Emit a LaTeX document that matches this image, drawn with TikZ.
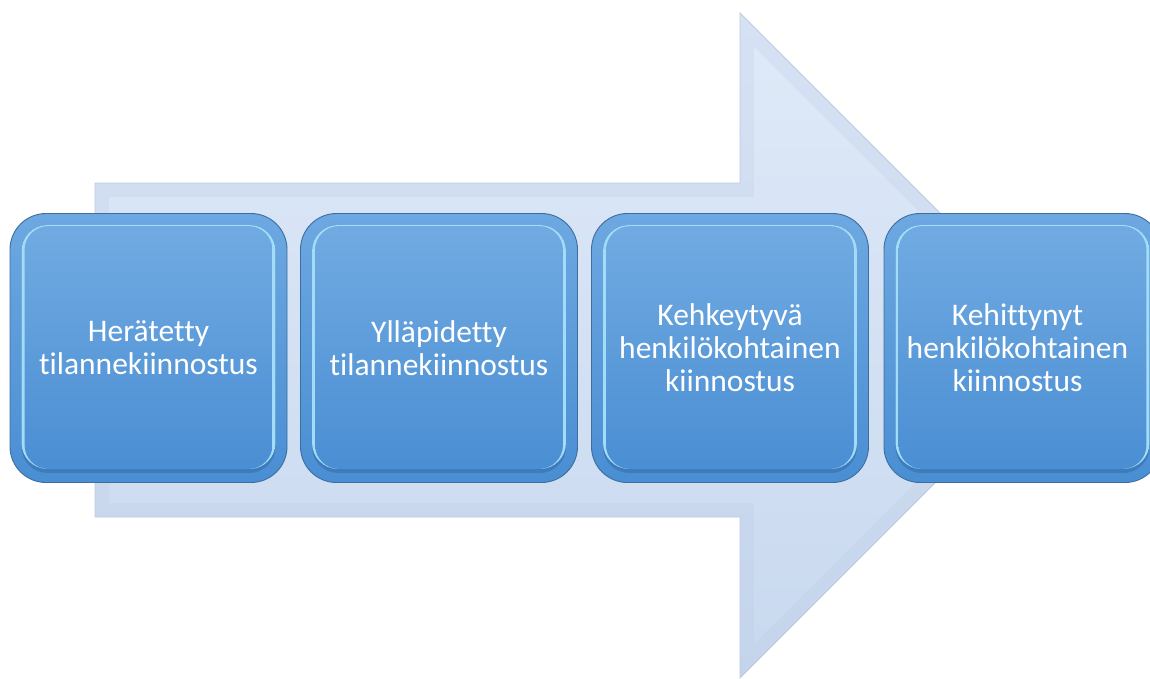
\documentclass[tikz,border=0pt]{standalone}
\usepackage{fontspec}
\setmainfont[Ligatures=NoCommon]{Carlito}
\definecolor{arrowtop}{HTML}{D6E2F3}
\definecolor{arrowbot}{HTML}{C4D4EB}
\definecolor{arrowfacetop}{HTML}{DEE9F8}
\definecolor{arrowfacebot}{HTML}{C9D9EF}
\definecolor{arrowedge}{HTML}{BCCBE0}
\definecolor{boxtop}{HTML}{6DA8E1}
\definecolor{boxbot}{HTML}{4A8ED3}
\definecolor{boxedge}{HTML}{3C6E9F}
\definecolor{boxhi}{HTML}{A3DCF6}
\definecolor{boxshadow}{HTML}{3D7BBB}
\begin{document}
\begin{tikzpicture}[x=1pt,y=-1pt,
  stagebox/.style={rounded corners=36pt, minimum width=277pt, minimum height=269pt,
    draw=boxedge, line width=0.9pt, top color=boxtop, bottom color=boxbot,
    inner sep=0pt},
  bevelhi/.style={rounded corners=26pt, fill=boxhi},
  bevelshadow/.style={rounded corners=26pt, fill=boxshadow},
  facebox/.style={rounded corners=24pt, top color=boxtop!97!white, bottom color=boxbot},
  stagetext/.style={text=white, align=center, font=\fontsize{31.5}{33}\selectfont},
]
\useasboundingbox (0,0) rectangle (1150,678);
% big arrow
\path[draw=arrowedge, line width=0.8pt, top color=arrowtop, bottom color=arrowbot]
  (95,183) -- (740,183) -- (740,13) -- (1072.5,345.5) -- (740,678) -- (740,517) -- (95,517) -- cycle;
\path[top color=arrowfacetop, bottom color=arrowfacebot]
  (109,197) -- (754,197) -- (754,46.8) -- (1052.7,345.5) -- (754,644.2) -- (754,503) -- (109,503) -- cycle;
% stage boxes
\foreach \nm/\cx in {b1/148.5, b2/439, b3/730, b4/1022.5}{
  \node[stagebox] (\nm) at (\cx,348) {};
}
\foreach \nm in {b1,b2,b3,b4}{
  \path[bevelshadow] ([xshift=12pt,yshift=-12pt]\nm.north west) rectangle ([xshift=-12pt,yshift=10pt]\nm.south east);
  \path[bevelhi] ([xshift=12pt,yshift=-12pt]\nm.north west) rectangle ([xshift=-12pt,yshift=14pt]\nm.south east);
  \path[facebox] ([xshift=15pt,yshift=-13pt]\nm.north west) rectangle ([xshift=-15pt,yshift=14pt]\nm.south east);
}
\node[stagetext] (t1) at (b1) {Herätetty\\tilannekiinnostus};
\node[stagetext] (t2) at (b2) {Ylläpidetty\\tilannekiinnostus};
\node[stagetext] (t3) at (b3) {Kehkeytyvä\\henkilökohtainen\\kiinnostus};
\node[stagetext] (t4) at ([xshift=-5pt]b4) {Kehittynyt\\henkilökohtainen\\kiinnostus};
\end{tikzpicture}
\end{document}
